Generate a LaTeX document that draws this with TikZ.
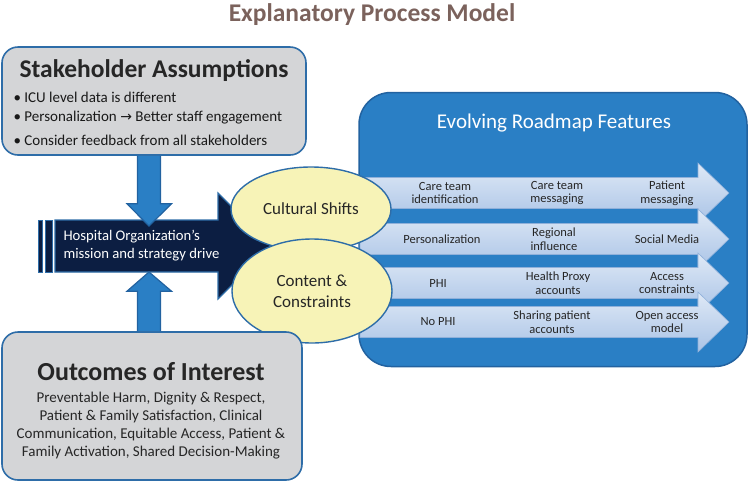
\documentclass[tikz,border=0pt]{standalone}
\usepackage{fontspec}
\setmainfont{Carlito}
\newfontfamily\symfont{DejaVu Sans}
\usetikzlibrary{calc,shapes.geometric}

\definecolor{titlebrown}{HTML}{7B625C}
\definecolor{boxgray}{HTML}{D4D5D7}
\definecolor{edgeblue}{HTML}{2E6DA8}
\definecolor{roadblue}{HTML}{2A7FC5}
\definecolor{roadedge}{HTML}{2262A0}
\definecolor{navy}{HTML}{0C1E42}
\definecolor{paleyellow}{HTML}{F7F3B7}
\definecolor{lighttop}{HTML}{DFE9F6}
\definecolor{lightbot}{HTML}{A9C3E6}
\definecolor{lightedge}{HTML}{8FB0DA}

\tikzset{
  graybox/.style={draw=edgeblue, line width=1.6pt, fill=boxgray, rounded corners=16pt},
  shiftellipse/.style={ellipse, draw=edgeblue, line width=1.4pt, fill=paleyellow,
    inner sep=0pt, align=center, font=\fontsize{17}{21}\selectfont, text=black!85},
  rowtext/.style={font=\fontsize{12.5}{13.5}\selectfont, align=center, text=black!85},
  bullettext/.style={anchor=west, font=\fontsize{15}{17}\selectfont, text=black!90},
  bluearrow/.style={draw=roadedge, line width=1.2pt, fill=roadblue}
}

\newcommand\featurearrow[1]{%
  \draw[draw=lightedge, line width=0.6pt, top color=lighttop, bottom color=lightbot]
    (360,#1-15.5) -- (698,#1-15.5) -- (698,#1-30) -- (729,#1) -- (698,#1+30)
    -- (698,#1+15.5) -- (360,#1+15.5) -- cycle;}

\begin{document}
\begin{tikzpicture}[x=1pt, y=-1pt]
  \useasboundingbox (0,0) rectangle (750,483);

  \node [font=\bfseries\fontsize{25.5}{28}\selectfont, text=titlebrown] (title) at (372,15) {Explanatory Process Model};

  % roadmap panel
  \node [draw=roadedge, line width=1.5pt, fill=roadblue, rounded corners=32pt,
         minimum width=388pt, minimum height=274pt] (roadmap) at (553,229.5) {};
  \node [text=white, font=\fontsize{21}{24}\selectfont] (roadtitle) at (554,123) {Evolving Roadmap Features};

  \foreach \y in {193,239,283,322}
    {
      \featurearrow{\y}
    }

  \node [rowtext] (r1a) at (445,193) {Care team\\identification};
  \node [rowtext] (r1b) at (557,193) {Care team\\messaging};
  \node [rowtext] (r1c) at (667,193) {Patient\\messaging};
  \node [rowtext] (r2a) at (442,239) {Personalization};
  \node [rowtext] (r2b) at (554,239) {Regional\\influence};
  \node [rowtext] (r2c) at (667,239) {Social Media};
  \node [rowtext] (r3a) at (438,283) {PHI};
  \node [rowtext] (r3b) at (558,283) {Health Proxy\\accounts};
  \node [rowtext] (r3c) at (667,283) {Access\\constraints};
  \node [rowtext] (r4a) at (438,322) {No PHI};
  \node [rowtext] (r4b) at (552,322) {Sharing patient\\accounts};
  \node [rowtext] (r4c) at (667,322) {Open access\\model};

  % driving arrow
  \draw [draw=edgeblue, line width=1.2pt, fill=navy]
    (55,220) -- (218,220) -- (218,193) -- (271,246) -- (218,299) -- (218,272) -- (55,272) -- cycle;
  \draw [draw=edgeblue, line width=1pt, fill=navy] (38,220) rectangle (42,272);
  \draw [draw=edgeblue, line width=1pt, fill=navy] (45,220) rectangle (52,272);
  \node [anchor=west, text=white, align=left, font=\fontsize{14.7}{18}\selectfont] (drive) at (60,246)
    {Hospital Organization’s\\mission and strategy drive};
  \coordinate (drivetop) at (149,220);
  \coordinate (drivebot) at (149,272);

  % shifts
  \node [shiftellipse, minimum width=160pt, minimum height=84pt] (cultural) at (311,209) {Cultural Shifts};
  \node [shiftellipse, minimum width=160pt, minimum height=104pt] (content) at (312,291) {Content \&\\Constraints};

  % assumptions
  \node [graybox, minimum width=304pt, minimum height=108pt] (stake) at (154,101) {};
  \node [font=\bfseries\fontsize{25.5}{28}\selectfont, text=black!85] (staketitle) at (154,71) {Stakeholder Assumptions};
  \node [bullettext] (b1) at (10,97) {\textbullet\ ICU level data is different};
  \node [bullettext] (b2) at (10,118) {\textbullet\ Personalization {\symfont\fontsize{14}{16}\selectfont →} Better staff engagement};
  \node [bullettext] (b3) at (10,140) {\textbullet\ Consider feedback from all stakeholders};

  % outcomes
  \node [graybox, minimum width=300pt, minimum height=148pt] (outcome) at (152,406) {};
  \node [font=\bfseries\fontsize{26}{28}\selectfont, text=black!85] (outtitle) at (151,372) {Outcomes of Interest};
  \node [align=center, font=\fontsize{15}{18}\selectfont, text=black!85] (outtext) at (151,426)
    {Preventable Harm, Dignity \& Respect,\\Patient \& Family Satisfaction, Clinical\\Communication, Equitable Access, Patient \&\\Family Activation, Shared Decision-Making};

  % vertical arrows
  \draw [bluearrow] ($(stake.south)+(-16.5,0)$) -- ++(0,48) -- ++(-10.5,0)
    -- ($(drivetop)+(0,6)$) -- ($(stake.south)+(17.5,48)$) -- ++(-11,0) -- ($(stake.south)+(6.5,0)$);
  \draw [bluearrow] ($(outcome.north)+(-14.5,0)$) -- ++(0,-40) -- ++(-10.5,0)
    -- (drivebot) -- ($(outcome.north)+(19.5,-40)$) -- ++(-11,0) -- ($(outcome.north)+(8.5,0)$);
\end{tikzpicture}
\end{document}
